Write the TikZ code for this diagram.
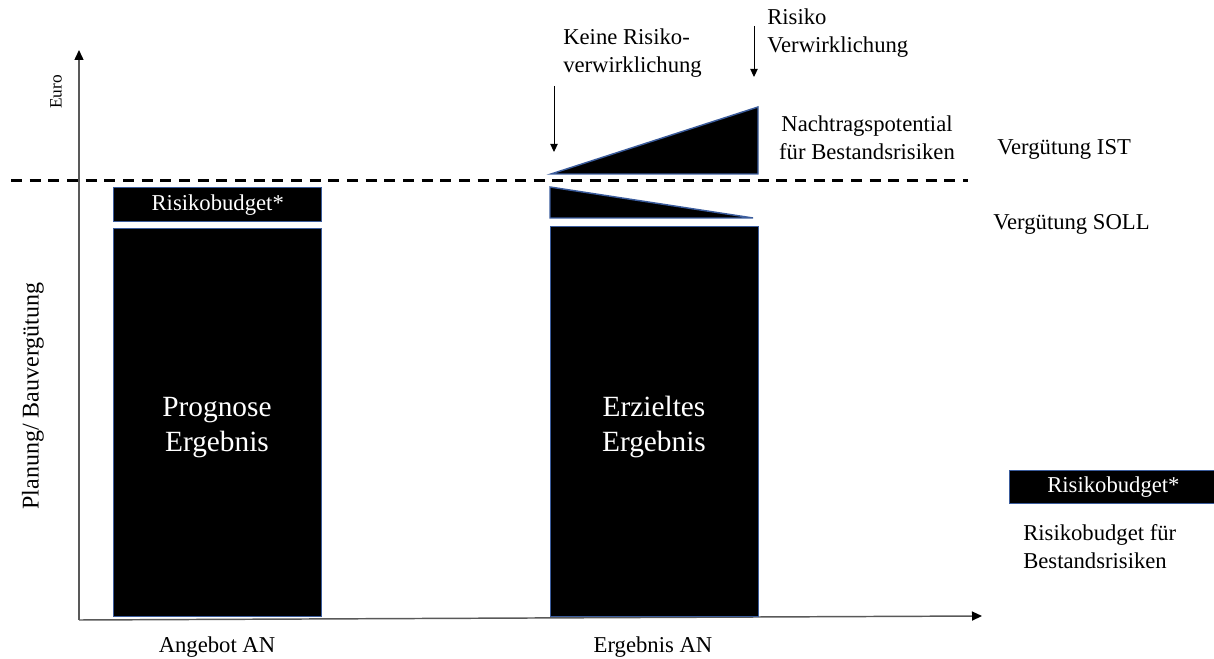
\documentclass[tikz,border=0pt]{standalone}
\usepackage{fontspec}
\setmainfont{Liberation Serif}
\usetikzlibrary{arrows.meta}
\definecolor{edgeblue}{HTML}{3B5C9C}
\definecolor{axisgray}{HTML}{595959}
\begin{document}
\begin{tikzpicture}[x=0.75pt,y=-0.75pt,
  lbl/.style={inner sep=0pt,font=\fontsize{17}{21}\selectfont,align=left},
  barbox/.style={fill=black,draw=edgeblue,line width=1.1pt,inner sep=0pt,text=white,font=\fontsize{17}{21}\selectfont},
  bigtext/.style={text=white,font=\fontsize{22}{26}\selectfont,align=center,inner sep=0pt},
  axis/.style={draw=axisgray,line width=1.1pt,-{Triangle[length=7.5pt,width=6.75pt,fill=black,color=black]}},
  pointer/.style={draw=black,line width=0.75pt,-{Triangle[length=6pt,width=5.5pt]}},
  tri/.style={fill=black,draw=edgeblue,line width=1.1pt,line join=miter}]
\useasboundingbox (0,0) rectangle (1214,659);
% axes
\coordinate (O) at (79,620);
\coordinate (ytop) at (79,50);
\coordinate (xend) at (982,616);
\draw[axis] (O) -- (ytop);
\draw[axis] (O) -- (xend);
% left column
\node[barbox,anchor=north west,minimum width=156pt,minimum height=25.5pt] (rbl) at (113,187) {Risikobudget*};
\node[barbox,anchor=north west,minimum width=156pt,minimum height=291pt] (prog) at (113,228) {};
\node[bigtext,anchor=base] (progt) at (217,451) {Prognose\\Ergebnis};
% right column
\node[barbox,anchor=north west,minimum width=156pt,minimum height=292.5pt] (erz) at (550,226) {};
\node[bigtext,anchor=base] (erzt) at (654,451) {Erzieltes\\Ergebnis};
\draw[tri] (551,174) -- (758,107) -- (758,174) -- cycle;
\draw[tri] (550,187) -- (753,218) -- (550,218) -- cycle;
% dashed line
\coordinate (dl) at (11,181);
\coordinate (dr) at (968,181);
\draw[black,line width=2.25pt,dash pattern=on 8.25pt off 5.75pt] (dl) -- (dr);
% pointers
\coordinate (kA) at (554,86);
\coordinate (kB) at (554,152);
\draw[pointer] (kA) -- (kB);
\coordinate (rA) at (754,26);
\coordinate (rB) at (754,77);
\draw[pointer] (rA) -- (rB);
% legend
\node[barbox,anchor=north west,minimum width=155.5pt,minimum height=24.75pt] (leg) at (1009,470) {Risikobudget*};
% labels
\node[lbl,anchor=base west] (keine) at (563,73) {Keine Risiko-\\verwirklichung};
\node[lbl,anchor=base west] (risiko) at (767,53) {Risiko\\Verwirklichung};
\node[lbl,align=center,anchor=base] (nach) at (867,160) {Nachtragspotential\\für Bestandsrisiken};
\node[lbl,anchor=base west] (ist) at (997,155) {Vergütung IST};
\node[lbl,anchor=base west] (soll) at (993,230) {Vergütung SOLL};
\node[lbl,anchor=base west] (rbt) at (1023,568) {Risikobudget für\\Bestandsrisiken};
\node[lbl,anchor=base] (ang) at (217,652) {Angebot AN};
\node[lbl,anchor=base] (erg) at (653,652) {Ergebnis AN};
\node[lbl,font=\fontsize{18}{21}\selectfont,rotate=90] (plan) at (33,396) {Planung/ Bauvergütung};
\node[inner sep=0pt,font=\fontsize{13}{15}\selectfont,rotate=90] (euro) at (56,92) {Euro};
\end{tikzpicture}
\end{document}
